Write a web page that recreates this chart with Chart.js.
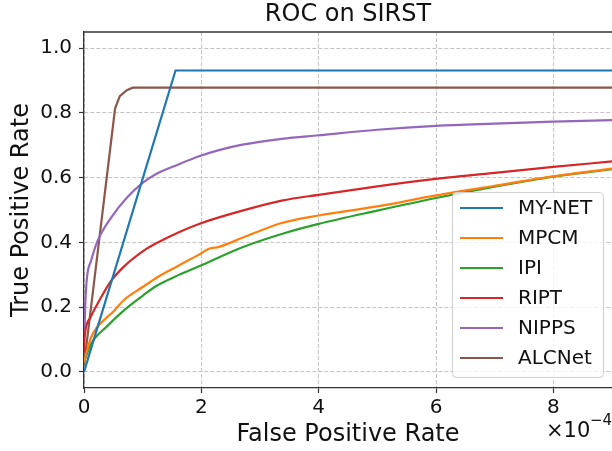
<!DOCTYPE html>
<html>
<head>
<meta charset="utf-8">
<script src="https://cdn.jsdelivr.net/npm/chart.js@4.4.0/dist/chart.umd.min.js"></script>
<style>
  html, body { margin: 0; padding: 0; background: #fff; }
</style>
</head>
<body>
<canvas id="chartRoc" width="612" height="451"></canvas>
<script>
// valores (FPR em unidades de 1e-4)
var legendas = ["MY-NET", "MPCM", "IPI", "RIPT", "NIPPS", "ALCNet"];
var cores = ["#1f77b4", "#ff7f0e", "#2ca02c", "#d62728", "#9467bd", "#8c564b"];

var xTicks = [0, 2, 4, 6, 8];
var yTicks = [0, 0.2, 0.4, 0.6, 0.8, 1.0];

var fprMyNet = [0, 1.56, 9];
var tprMyNet = [0, 0.931, 0.931];

var fprMpcm = [0, 0.12, 0.4, 0.48, 0.68, 1.0, 1.23, 1.6, 1.96, 2.13, 2.3, 2.7, 3.37, 4.0, 5.0, 6.0, 7.0, 8.0, 9.0];
var tprMpcm = [0.03, 0.106, 0.17, 0.182, 0.222, 0.262, 0.29, 0.327, 0.362, 0.38, 0.386, 0.414, 0.46, 0.483, 0.511, 0.545, 0.575, 0.604, 0.628];

var fprIpi = [0, 0.12, 0.4, 0.68, 1.0, 1.23, 1.6, 1.96, 2.7, 3.37, 4.0, 5.0, 6.0, 7.0, 8.0, 9.0];
var tprIpi = [0.03, 0.086, 0.142, 0.19, 0.235, 0.265, 0.298, 0.326, 0.385, 0.426, 0.457, 0.498, 0.537, 0.572, 0.603, 0.626];

var fprRipt = [0, 0.01, 0.1, 0.2, 0.45, 0.68, 1.0, 1.23, 1.6, 1.96, 2.7, 3.37, 4.0, 5.0, 6.0, 7.0, 8.0, 9.0];
var tprRipt = [0.06, 0.106, 0.165, 0.2, 0.278, 0.325, 0.372, 0.397, 0.43, 0.457, 0.498, 0.529, 0.547, 0.573, 0.596, 0.615, 0.633, 0.65];

var fprNipps = [0, 0.02, 0.05, 0.12, 0.23, 0.46, 0.73, 1.0, 1.23, 1.6, 1.96, 2.3, 2.7, 3.37, 4.0, 5.0, 6.0, 7.0, 8.0, 9.0];
var tprNipps = [0.08, 0.2, 0.29, 0.343, 0.404, 0.476, 0.538, 0.584, 0.611, 0.64, 0.666, 0.685, 0.702, 0.72, 0.731, 0.748, 0.76, 0.767, 0.773, 0.778];

var fprAlcnet = [0, 0.53, 0.61, 0.73, 0.83, 9];
var tprAlcnet = [0.02, 0.814, 0.852, 0.87, 0.878, 0.878];

function pontos(xs, ys) {
  var lista = [];
  for (var i = 0; i < xs.length; i++) {
    lista.push({ x: xs[i], y: ys[i] });
  }
  return lista;
}

var series = [
  pontos(fprMyNet, tprMyNet),
  pontos(fprMpcm, tprMpcm),
  pontos(fprIpi, tprIpi),
  pontos(fprRipt, tprRipt),
  pontos(fprNipps, tprNipps),
  pontos(fprAlcnet, tprAlcnet),
];

var fonte = "'DejaVu Sans', sans-serif";
var corTexto = "#111";
var corEixo = "#333";

var datasets = [];
for (var i = 0; i < series.length; i++) {
  var suave = i >= 1 && i <= 4;
  datasets.push({
    label: legendas[i],
    data: series[i],
    borderColor: cores[i],
    backgroundColor: cores[i],
    borderWidth: 2.2,
    pointRadius: 0,
    fill: false,
    tension: 0,
    cubicInterpolationMode: suave ? "monotone" : "default",
  });
}

// moldura de cima, legenda dentro do grafico e o texto x10^-4
var extras = {
  id: "extras",
  afterDatasetsDraw: function (chart) {
    var ctx = chart.ctx;
    var area = chart.chartArea;
    ctx.save();

    ctx.strokeStyle = corEixo;
    ctx.lineWidth = 1.3;
    ctx.beginPath();
    ctx.moveTo(area.left, area.top);
    ctx.lineTo(area.right, area.top);
    ctx.stroke();

    // caixa da legenda
    var bx = 452, by = 192, bw = 151, bh = 185;
    ctx.beginPath();
    ctx.roundRect(bx + 0.5, by + 0.5, bw, bh, 4);
    ctx.fillStyle = "rgba(255,255,255,0.8)";
    ctx.fill();
    ctx.strokeStyle = "#d0d0d0";
    ctx.lineWidth = 1;
    ctx.stroke();

    ctx.font = "20px " + fonte;
    ctx.textBaseline = "middle";
    ctx.textAlign = "left";
    chart.data.datasets.forEach(function (ds, k) {
      var y = 208 + k * 30;
      ctx.strokeStyle = ds.borderColor;
      ctx.lineWidth = 2.2;
      ctx.beginPath();
      ctx.moveTo(460, y);
      ctx.lineTo(503, y);
      ctx.stroke();
      ctx.fillStyle = corTexto;
      ctx.fillText(ds.label, 518, y + 1);
    });

    // multiplicador do eixo x
    ctx.fillStyle = corTexto;
    ctx.font = "21px " + fonte;
    ctx.fillText("\u00d710", 546, 432);
    ctx.font = "15px " + fonte;
    ctx.fillText("\u22124", 590, 421);

    ctx.restore();
  },
};

var grafico = new Chart(document.getElementById("chartRoc"), {
  type: "line",
  data: { datasets: datasets },
  plugins: [extras],
  options: {
    responsive: false,
    animation: false,
    devicePixelRatio: 1,
    layout: { padding: 0 },
    plugins: {
      legend: { display: false },
      tooltip: { enabled: false },
      title: {
        display: true,
        text: "ROC on SIRST",
        fullSize: false,
        color: corTexto,
        font: { family: fonte, size: 24, weight: "normal", lineHeight: 1.2 },
        padding: { top: 0.5, bottom: 2.7 },
      },
    },
    scales: {
      x: {
        type: "linear",
        min: 0,
        max: 9,
        afterBuildTicks: function (axis) {
          axis.ticks = xTicks.map(function (v) { return { value: v }; });
        },
        afterFit: function (axis) { axis.height = 63; },
        ticks: {
          color: corTexto,
          font: { family: fonte, size: 20 },
          padding: 3,
          maxRotation: 0,
          callback: function (v) { return String(v); },
        },
        grid: { color: "#c4c4c4", lineWidth: 1, tickLength: 5, tickColor: corEixo, tickWidth: 1.2 },
        border: { display: true, color: corEixo, width: 1.3, dash: [4, 2] },
        title: {
          display: true,
          text: "False Positive Rate",
          color: corTexto,
          font: { family: fonte, size: 24, lineHeight: 1.2 },
          padding: { top: 0, bottom: 1.6 },
        },
      },
      y: {
        type: "linear",
        min: -0.05,
        max: 1.05,
        afterBuildTicks: function (axis) {
          axis.ticks = yTicks.map(function (v) { return { value: v }; });
        },
        afterFit: function (axis) { axis.width = 84; },
        ticks: {
          color: corTexto,
          font: { family: fonte, size: 20 },
          padding: 7,
          callback: function (v) { return v.toFixed(1); },
        },
        grid: { color: "#c4c4c4", lineWidth: 1, tickLength: 5, tickColor: corEixo, tickWidth: 1.2 },
        border: { display: true, color: corEixo, width: 1.3, dash: [4, 2] },
        title: {
          display: true,
          text: "True Positive Rate",
          color: corTexto,
          font: { family: fonte, size: 24, lineHeight: 1.2 },
          padding: { top: 7.6, bottom: 0 },
        },
      },
    },
  },
});
</script>
</body>
</html>
